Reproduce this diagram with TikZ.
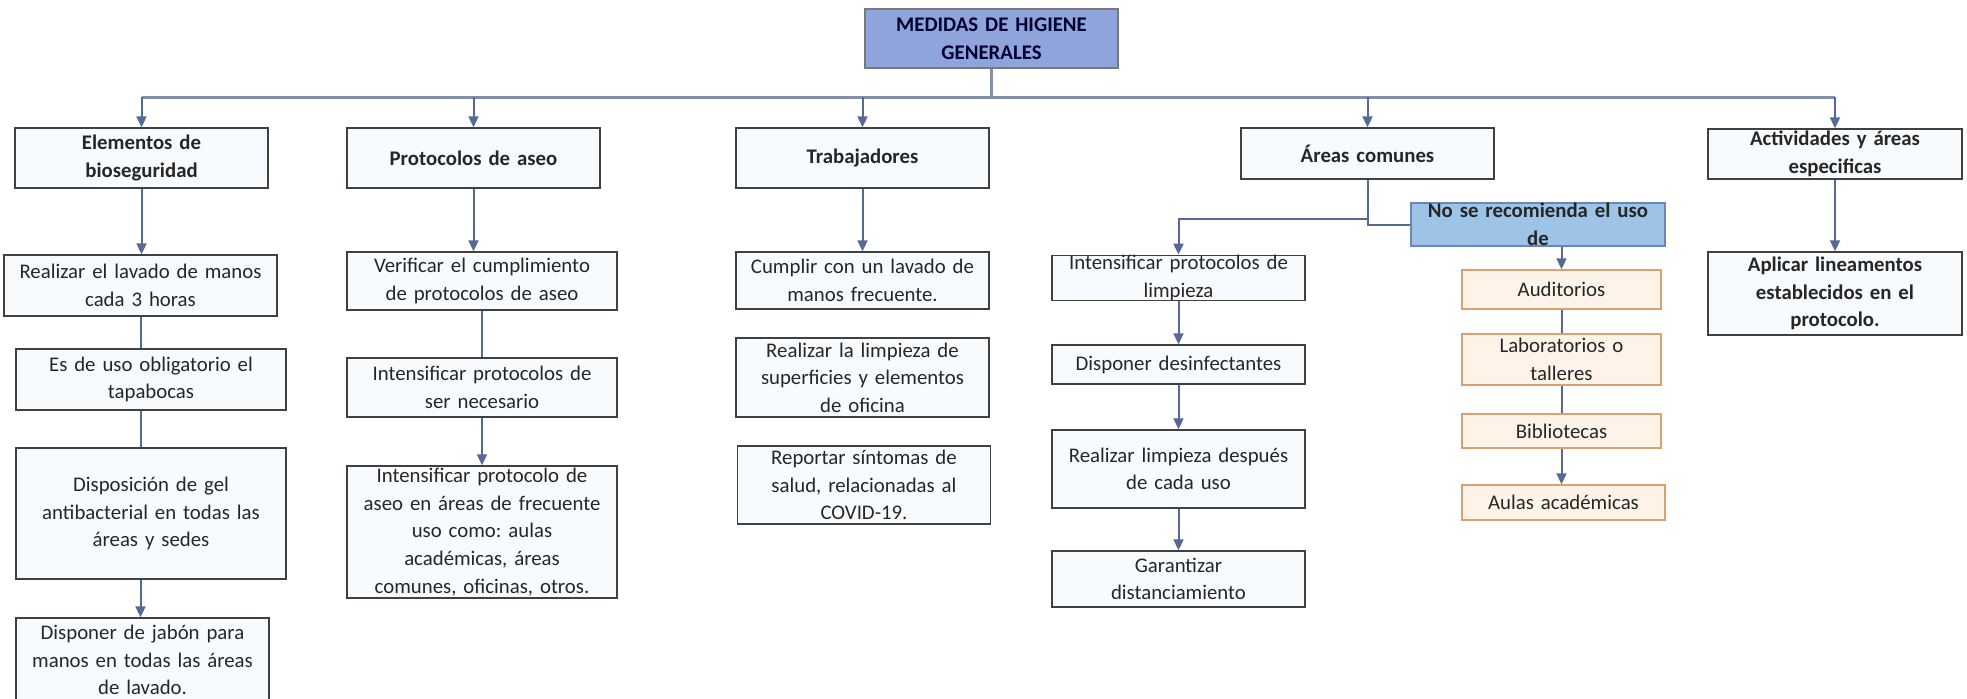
\documentclass[tikz,border=0pt]{standalone}
\usepackage{fontspec}
\setmainfont{Carlito}
\frenchspacing
\usetikzlibrary{arrows.meta}
\definecolor{hgline}{RGB}{86,106,150}
\definecolor{hgbus}{RGB}{130,143,172}
\definecolor{hgframe}{RGB}{64,64,64}
\definecolor{hgpaper}{RGB}{248,251,254}
\definecolor{hgtitle}{RGB}{142,164,219}
\definecolor{hgsky}{RGB}{157,195,230}
\definecolor{hgskyline}{RGB}{105,135,185}
\definecolor{hgpeach}{RGB}{253,243,233}
\definecolor{hgorange}{RGB}{218,160,112}
\begin{document}
\begin{tikzpicture}[
  x=0.5pt, y=-0.5pt,
  >={Triangle[length=5.5pt,width=5pt]},
  every node/.style={font=\fontsize{10.4}{13.8}\selectfont,text=black!85},
  card/.style={rectangle,draw=hgframe,line width=0.7pt,fill=hgpaper,align=center,
    inner xsep=2pt,inner ysep=0pt},
  heading/.style={card,font=\fontsize{10.4}{13.8}\selectfont\bfseries},
  place/.style={card,draw=hgorange,fill=hgpeach},
  link/.style={hgline,line width=1pt},
  bus/.style={hgbus,line width=1.5pt}
]
\useasboundingbox (0,0) rectangle (1967,698);
\node[heading,fill=hgtitle,draw=hgframe!70,text=black!80!blue,text width=122.5pt,minimum height=29.5pt] (title) at (991.5,38.5) {MEDIDAS DE HIGIENE\\GENERALES};
\node[heading,text width=122.5pt,minimum height=30pt] (elem) at (141.5,158) {Elementos de\\bioseguridad};
\node[heading,text width=122.5pt,minimum height=30pt] (prot) at (473.5,158) {Protocolos de aseo};
\node[heading,text width=122.5pt,minimum height=30pt] (trab) at (862.5,158) {Trabajadores};
\node[heading,text width=122.5pt,minimum height=25.5pt] (areas) at (1367.5,153.5) {Áreas comunes};
\node[heading,text width=123pt,minimum height=25pt] (activ) at (1835,154) {Actividades y áreas\\especificas};
\coordinate (hub) at (992,97);
\draw[bus] (title.south) -- (title.south |- hub);
\draw[bus] (elem.north |- hub) -- (activ.north |- hub);
\foreach \n in {elem,prot,trab,areas,activ}
  \draw[link,->] (\n.north |- hub) -- (\n.north);

\node[card,text width=132.5pt,minimum height=30.5pt] (lav) at (140.5,285.5) {Realizar el lavado de manos\\cada 3 horas};
\node[card,text width=131pt,minimum height=30.5pt] (tapa) at (151,379.5) {Es de uso obligatorio el\\tapabocas};
\node[card,text width=131pt,minimum height=65.5pt] (gel) at (151,513.5) {Disposición de gel\\antibacterial en todas las\\áreas y sedes};
\node[card,text width=122.5pt,minimum height=42pt] (jabon) at (142.5,660) {Disponer de jabón para\\manos en todas las áreas\\de lavado.};
\draw[link,->] (elem.south) -- (elem.south |- lav.north);
\draw[link] (lav.south) -- (lav.south |- tapa.north);
\draw[link] (lav.south |- tapa.south) -- (lav.south |- gel.north);
\draw[link,->] (lav.south |- gel.south) -- (lav.south |- jabon.north);

\node[card,text width=131pt,minimum height=29pt] (verif) at (482,281) {Verificar el cumplimiento\\de protocolos de aseo};
\node[card,text width=131pt,minimum height=29.5pt] (intens) at (482,387.5) {Intensificar protocolos de\\ser necesario};
\node[card,text width=131pt,minimum height=66pt] (frec) at (482,532) {Intensificar protocolo de\\aseo en áreas de frecuente\\uso como: aulas\\académicas, áreas\\comunes, oficinas, otros.};
\draw[link,->] (prot.south) -- (prot.south |- verif.north);
\draw[link] (verif) -- (intens);
\draw[link,->] (intens) -- (frec);

\node[card,text width=122.5pt,minimum height=28.5pt] (cumplir) at (862.5,280.5) {Cumplir con un lavado de\\manos frecuente.};
\node[card,text width=122.5pt,minimum height=39.5pt] (superf) at (862.5,377.5) {Realizar la limpieza de\\superficies y elementos\\de oficina};
\node[card,text width=122.5pt,minimum height=39pt] (sintomas) at (864,485) {Reportar síntomas de\\salud, relacionadas al\\COVID-19.};
\draw[link,->] (trab) -- (cumplir);

\node[card,text width=122.5pt,minimum height=20pt] (limp) at (1178.5,278) {Intensificar protocolos de\\limpieza};
\node[card,text width=122.5pt,minimum height=19.5pt] (desinf) at (1178.5,364.5) {Disponer desinfectantes};
\node[card,text width=122.5pt,minimum height=39pt] (despues) at (1178.5,469) {Realizar limpieza después\\de cada uso};
\node[card,text width=122.5pt,minimum height=28pt] (dist) at (1178.5,579) {Garantizar\\distanciamiento};
\node[heading,fill=hgsky,draw=hgskyline,text width=123pt,minimum height=21.5pt] (nose) at (1538,224.5) {No se recomienda el uso\\de};
\coordinate (split) at (1367,219);
\draw[link] (areas.south) |- (nose.west);
\draw[link,->] (split) -| (limp.north);
\draw[link,->] (limp) -- (desinf);
\draw[link,->] (desinf) -- (despues);
\draw[link,->] (despues) -- (dist);

\node[place,text width=95.5pt,minimum height=19.5pt] (audit) at (1561.5,289.5) {Auditorios};
\node[place,text width=95.5pt,minimum height=25.5pt] (labs) at (1561.5,359.5) {Laboratorios o\\talleres};
\node[place,text width=95.5pt,minimum height=17pt] (biblio) at (1561.5,431) {Bibliotecas};
\node[place,text width=97.5pt,minimum height=17.5pt] (aulas) at (1563.5,502.5) {Aulas académicas};
\draw[link,->] (nose.south -| audit.north) -- (audit.north);
\draw[link] (audit) -- (labs);
\draw[link] (labs) -- (biblio);
\draw[link,->] (biblio.south) -- (biblio.south |- aulas.north);

\node[heading,text width=123pt,minimum height=41.5pt] (aplicar) at (1835,293.5) {Aplicar lineamentos\\establecidos en el\\protocolo.};
\draw[link,->] (activ.south) -- (aplicar.north);
\end{tikzpicture}
\end{document}
